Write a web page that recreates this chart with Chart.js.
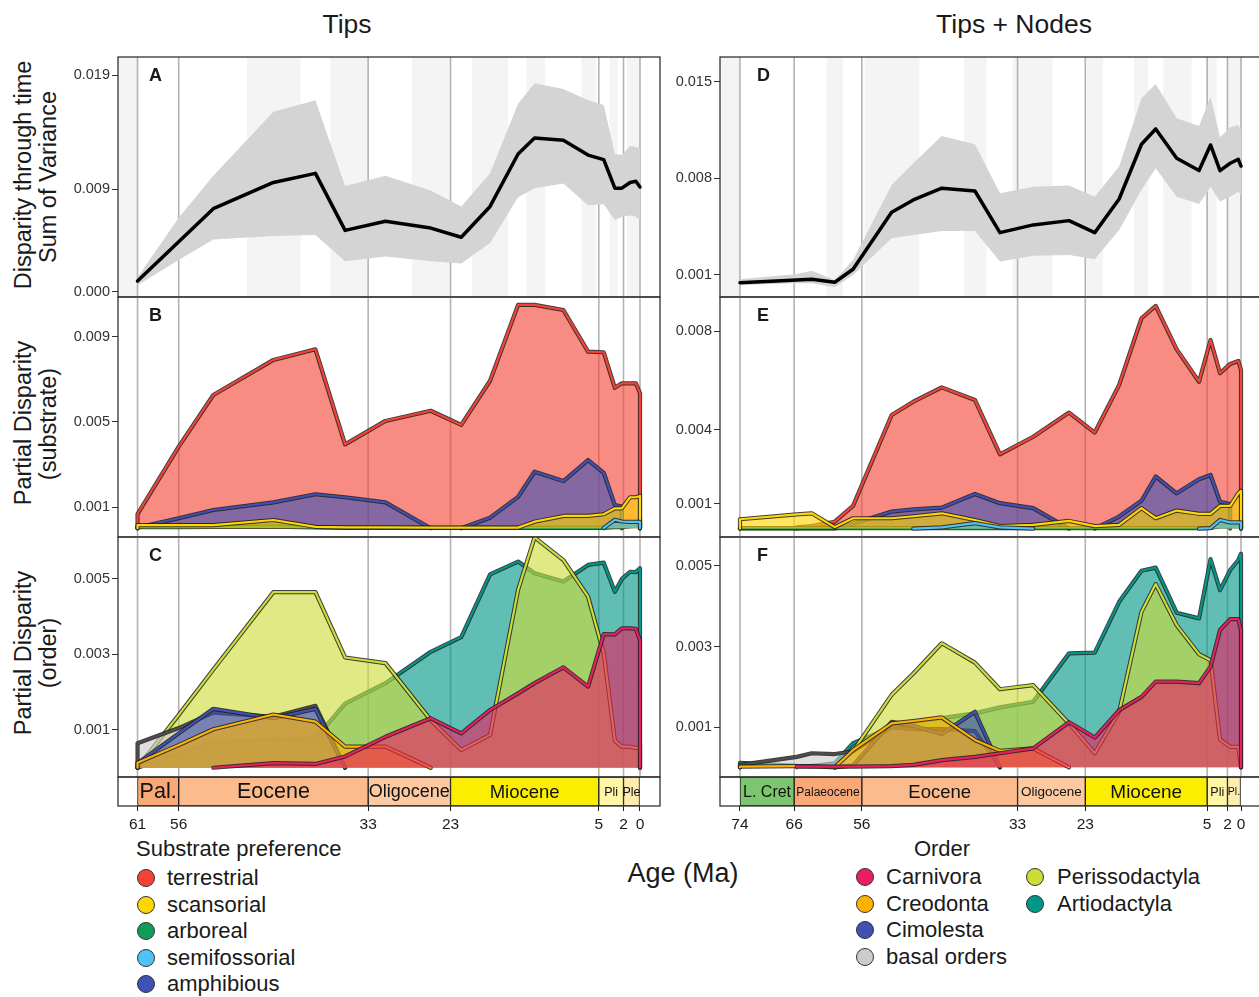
<!DOCTYPE html>
<html>
<head>
<meta charset="utf-8">
<title>Disparity through time</title>
<script src="https://cdn.jsdelivr.net/npm/chart.js@4.4.1/dist/chart.umd.min.js"></script>
<style>
  html, body { margin:0; padding:0; background:#fff; }
  body { position:relative; width:1259px; height:997px; overflow:hidden; font-family:"Liberation Sans", Arial, sans-serif; color:#1a1a1a; }
  canvas { position:absolute; }
  .lbl { position:absolute; white-space:nowrap; line-height:1; transform:translate(-50%,-50%); }
  .rot { transform:translate(-50%,-50%) rotate(-90deg); }
  .tag { position:absolute; font-weight:bold; font-size:18px; line-height:1; }
  .leg { position:absolute; font-size:22px; line-height:1; white-space:nowrap; transform:translateY(-50%); }
  .dot { position:absolute; width:18px; height:18px; border-radius:50%; border:1px solid #333; box-sizing:border-box; transform:translate(-50%,-50%); }
</style>
</head>
<body>

<div class="lbl" style="left:347px;top:24px;font-size:26.5px">Tips</div>
<div class="lbl" style="left:1014px;top:24px;font-size:26.5px">Tips + Nodes</div>

<div class="lbl rot" style="left:24px;top:175px;font-size:23.5px">Disparity through time</div>
<div class="lbl rot" style="left:49px;top:177px;font-size:23.5px">Sum of Variance</div>
<div class="lbl rot" style="left:24px;top:423px;font-size:23.5px">Partial Disparity</div>
<div class="lbl rot" style="left:49px;top:424px;font-size:23.5px">(substrate)</div>
<div class="lbl rot" style="left:24px;top:653px;font-size:23.5px">Partial Disparity</div>
<div class="lbl rot" style="left:49px;top:653px;font-size:23.5px">(order)</div>

<canvas id="cA" width="666" height="252" style="left:0;top:51px"></canvas>
<canvas id="cB" width="666" height="252" style="left:0;top:291px"></canvas>
<canvas id="cC" width="666" height="252" style="left:0;top:531px"></canvas>
<canvas id="tsL" width="666" height="60" style="left:0;top:771px"></canvas>
<canvas id="cD" width="666" height="252" style="left:600px;top:51px"></canvas>
<canvas id="cE" width="666" height="252" style="left:600px;top:291px"></canvas>
<canvas id="cF" width="666" height="252" style="left:600px;top:531px"></canvas>
<canvas id="tsR" width="666" height="60" style="left:600px;top:771px"></canvas>

<div class="tag" style="left:149px;top:66px">A</div>
<div class="tag" style="left:149px;top:306px">B</div>
<div class="tag" style="left:149px;top:546px">C</div>
<div class="tag" style="left:757px;top:66px">D</div>
<div class="tag" style="left:757px;top:306px">E</div>
<div class="tag" style="left:757px;top:546px">F</div>

<div class="lbl" style="left:683px;top:873px;font-size:27px">Age (Ma)</div>
<div id="legends"></div>

<script>
Chart.defaults.font.family = '"Liberation Sans", Arial, sans-serif';
Chart.defaults.color = '#333';

// time bins (Ma)
const tipsAges  = [61, 56, 51.8, 44.5, 39.4, 35.8, 30.9, 25.4, 21.7, 18.2, 14.8, 12.8, 9.3, 6.3, 4.4, 3.05, 2.2, 1.2, 0.5, 0];
const nodesAges = [74, 65.6, 63.4, 60, 57.3, 51.6, 48.4, 44.2, 39.3, 35.6, 30.7, 25.4, 21.6, 18, 14.7, 12.6, 9.5, 6.2, 4.5, 3.1, 1.6, 0.4, 0];

// A / D: disparity through time, mean and band
const tipsMean = [0.00096, 0.0044, 0.0073, 0.0096, 0.0104, 0.0054, 0.0062, 0.0056, 0.0048, 0.0075, 0.0121, 0.0135, 0.0133, 0.0120, 0.0116, 0.0091, 0.0091, 0.0096, 0.0097, 0.0092];
const tipsHi   = [0.0013, 0.0065, 0.0102, 0.0158, 0.0168, 0.0093, 0.0102, 0.0089, 0.0075, 0.0104, 0.0165, 0.0183, 0.0178, 0.0168, 0.0164, 0.0121, 0.0120, 0.0128, 0.0127, 0.0126];
const tipsLo   = [0.0006, 0.0028, 0.0046, 0.0049, 0.0050, 0.0027, 0.0031, 0.0027, 0.0025, 0.0043, 0.0083, 0.0091, 0.0095, 0.0076, 0.0077, 0.0063, 0.0066, 0.0067, 0.0066, 0.0063];
const nodesMean = [0.00044, 0.00064, 0.00069, 0.00047, 0.00141, 0.00555, 0.00644, 0.00729, 0.00709, 0.00407, 0.00463, 0.00494, 0.00407, 0.00651, 0.01048, 0.01159, 0.00946, 0.00857, 0.01043, 0.00857, 0.0091, 0.00939, 0.0089];
const nodesHi   = [0.00069, 0.00107, 0.00131, 0.00064, 0.00209, 0.00753, 0.0091, 0.01108, 0.01048, 0.00693, 0.0074, 0.00748, 0.00668, 0.00886, 0.01382, 0.01486, 0.01237, 0.01181, 0.01393, 0.01099, 0.01171, 0.01188, 0.01152];
const nodesLo   = [0.00027, 0.0004, 0.0004, 0.00011, 0.001, 0.00366, 0.0039, 0.00419, 0.00419, 0.00197, 0.0024, 0.00245, 0.00214, 0.00426, 0.00717, 0.00874, 0.00668, 0.00615, 0.0074, 0.00632, 0.00668, 0.00704, 0.0068];

// B / E: partial disparity by substrate
const tipsTerrestrial   = [0.00067, 0.00384, 0.00627, 0.00792, 0.00842, 0.00395, 0.00505, 0.00553, 0.00486, 0.00694, 0.01051, 0.01051, 0.01027, 0.00831, 0.00828, 0.00661, 0.00682, 0.00682, 0.00682, 0.00635];
const tipsAmphibious    = [0.00004, 0.00047, 0.00086, 0.00122, 0.0016, 0.00146, 0.00122, 0, 0, 0.0005, 0.00148, 0.00266, 0.00222, 0.00321, 0.00261, 0.00109, 0.00102, null, null, null];
const tipsScansorial    = [0.00015, 0.00015, 0.00015, 0.00039, 0.00007, 0.00004, 0.00004, 0.00003, 0.00003, 0.00003, 0.00003, 0.00031, 0.00058, 0.00058, 0.00066, 0.00094, 0.00094, 0.00146, 0.00146, 0.00152];
const tipsArboreal      = [0.00005, 0.00005, 0.00006, 0.00008, 0.00004, 0.00002, 0.00002, 0.00002, 0.00002, 0.00002, 0.00002, 0.00002, 0.00002, 0.00002, 0.00002, 0.00005, 0.00005, 0.0001, 0.00015, 0.00045];
const tipsSemifossorial = [null, null, null, null, null, null, null, null, null, null, null, null, null, null, 0.00002, 0.0004, 0.00032, 0.0003, 0.0003, 0.0003];

const nodesTerrestrial   = [null, 0.00005, 0.0001, 0.00028, 0.00092, 0.0046, 0.00514, 0.00572, 0.00521, 0.00301, 0.00372, 0.0047, 0.00389, 0.00582, 0.00852, 0.00902, 0.00726, 0.00595, 0.00764, 0.00629, 0.00667, 0.00679, 0.00643];
const nodesAmphibious    = [0.00001, 0.00001, 0.00001, 0.00001, 0.0002, 0.00069, 0.00078, 0.00085, 0.0014, 0.00103, 0.00083, 0, 0, 0.00049, 0.00113, 0.00211, 0.00143, 0.002, 0.00217, 0.00109, 0.00099, null, null];
const nodesScansorial    = [0.00038, 0.00058, 0.00062, 0.00006, 0.00042, 0.00042, 0.0005, 0.00062, 0.00035, 0.0001, 0.00015, 0.00031, 0.0001, 0.00015, 0.00083, 0.00042, 0.00073, 0.0006, 0.0006, 0.00092, 0.00092, 0.00143, 0.00153];
const nodesArboreal      = [0.00002, 0.00002, 0.00002, 0.00002, 0.00002, 0.00002, 0.00002, 0.00002, 0.00002, 0.00002, 0.00002, 0.00002, 0.00002, 0.00002, 0.00002, 0.00002, 0.00002, 0.00002, 0.00003, 0.0001, 0.0001, 0.00015, 0.0003];
const nodesSemifossorial = [null, null, null, null, null, null, 0, 0.00005, 0.00022, 0.00005, 0, 0, 0, 0, 0, 0, 0, 0, 0.00002, 0.00035, 0.00025, 0.00025, 0.00025];

// C / F: partial disparity by order
const tipsArtiodactyla   = [0, 0.00038, 0.00069, 0.00075, 0.00078, 0.0017, 0.00224, 0.00307, 0.00346, 0.00512, 0.00546, 0.00515, 0.00493, 0.00537, 0.00543, 0.00466, 0.005, 0.00519, 0.00518, 0.00528];
const tipsPerissodactyla = [0, 0.0014, 0.0026, 0.00465, 0.00465, 0.00292, 0.00277, 0.00126, 0.00047, 0.00087, 0.00471, 0.0061, 0.0055, 0.00453, 0.00303, 0.00072, 0.00056, 0.00056, 0.00052, 0.00056];
const tipsBasal          = [0.00065, 0.00105, 0.00146, 0.00135, 0.00164, 0, null, null, null, null, null, null, null, null, null, null, null, null, null, null];
const tipsCimolesta      = [0.00012, 0.00091, 0.00156, 0.00131, 0.00156, 0, null, null, null, null, null, null, null, null, null, null, null, null, null, null];
const tipsCreodonta      = [0.00013, 0.0006, 0.00102, 0.00141, 0.00122, 0.00056, 0.00056, 0, null, null, null, null, null, null, null, null, null, null, null, null];
const tipsCarnivora      = [null, null, 0, 0.00012, 0.0001, 0.0003, 0.00082, 0.00131, 0.00091, 0.00153, 0.00197, 0.00224, 0.00266, 0.00215, 0.00354, 0.00353, 0.00369, 0.00369, 0.00368, 0.00338];

const nodesArtiodactyla   = [0.00011, 0.00004, 0.00003, 0.0001, 0.0006, 0.001, 0.00113, 0.00122, 0.00134, 0.00149, 0.00163, 0.00283, 0.00285, 0.00411, 0.00488, 0.00496, 0.00384, 0.0037, 0.00517, 0.0044, 0.0049, 0.00515, 0.0053];
const nodesPerissodactyla = [null, null, null, 0, 0.0004, 0.0018, 0.00233, 0.00308, 0.0026, 0.00194, 0.00204, 0.00109, 0.00035, 0.00138, 0.00386, 0.00455, 0.00353, 0.00281, 0.00266, 0.00069, 0.00051, 0.00051, 0];
const nodesBasal          = [0.00006, 0.00026, 0.00035, 0.00033, 0.0004, 0.001, 0.00095, 0.00095, 0.0009, 0, null, null, null, null, null, null, null, null, null, null, null, null, null];
const nodesCimolesta      = [null, null, null, 0, 0.00005, 0.00113, 0.00103, 0.00083, 0.00138, 0, null, null, null, null, null, null, null, null, null, null, null, null, null];
const nodesCreodonta      = [0.00002, 0.00003, 0.00003, 0, 0.00043, 0.00109, 0.00115, 0.00124, 0.00068, 0.00041, 0.00047, 0, null, null, null, null, null, null, null, null, null, null, null];
const nodesCarnivora      = [null, 0.00002, 0.00002, 0.00002, 0.00002, 0.00003, 0.00006, 0.00018, 0.00026, 0.00035, 0.00047, 0.00112, 0.00074, 0.00142, 0.00175, 0.00213, 0.00213, 0.00209, 0.0025, 0.00341, 0.00368, 0.00368, 0.00341];

// y tick values
const ticksA = [0, 0.009, 0.019];
const ticksB = [0.001, 0.005, 0.009];
const ticksC = [0.001, 0.003, 0.005];
const ticksD = [0.001, 0.008, 0.015];
const ticksE = [0.001, 0.004, 0.008];
const ticksF = [0.001, 0.003, 0.005];

// geological timescale
const tipsBounds  = [61, 56, 33, 23, 5, 2, 0];
const nodesBounds = [74, 66, 56, 33, 23, 5, 2, 0];
const tipsEpochs  = ['Pal.', 'Eocene', 'Oligocene', 'Miocene', 'Pli', 'Ple'];
const nodesEpochs = ['L. Cret', 'Palaeocene', 'Eocene', 'Oligocene', 'Miocene', 'Pli', 'Pl.'];
const epochColor = { 'L. Cret':'#7dc56e', 'Pal.':'#f9a878', 'Palaeocene':'#f9a878', 'Eocene':'#fbbb8c', 'Oligocene':'#fdc9a2', 'Miocene':'#fbee00', 'Pli':'#fff5a6', 'Ple':'#ffedb0', 'Pl.':'#ffedb0' };
const tipsEpochFont  = [21.5, 21.5, 18, 18.5, 12.5, 12.5];
const nodesEpochFont = [16, 12, 18.5, 13.5, 19, 12.5, 10.5];

// stage shading in A and D (Ma)
const tipsStripes  = [[64, 61], [47.7, 41.2], [37.6, 33], [27.7, 23], [20.4, 16], [13.8, 11.5], [7.1, 5.3], [3.7, 2.7], [1.6, 0]];
const nodesStripes = [[77, 74], [61.2, 58.8], [55.6, 47.5], [40.9, 37.6], [33.7, 27.8], [22.8, 20.4], [15.8, 13.7], [11.5, 7.3], [5.2, 3.6], [2.1, 0]];

const substrateNames = ['terrestrial', 'scansorial', 'arboreal', 'semifossorial', 'amphibious'];
const substrateColors = ['#f44336', '#ffd600', '#0f9d58', '#4fc3f7', '#3f51b5'];
const orderNames = ['Carnivora', 'Creodonta', 'Cimolesta', 'basal orders', 'Perissodactyla', 'Artiodactyla'];
const orderColors = ['#e91e63', '#ffb300', '#3f51b5', '#cccccc', '#cddc39', '#009688'];

function rgba(hex, a) {
  const n = parseInt(hex.slice(1), 16);
  return `rgba(${n >> 16},${(n >> 8) & 255},${n & 255},${a})`;
}

function closedPts(ages, vals) {
  const p = [];
  ages.forEach((a, i) => { if (vals[i] !== null) p.push({x: a, y: vals[i]}); });
  return [{x: p[0].x, y: 0}, ...p, {x: p[p.length - 1].x, y: 0}];
}

// no outline where a series sits exactly on zero
const hideZero = ctx => (ctx.p0.parsed.y === 0 && ctx.p1.parsed.y === 0) ? 'rgba(0,0,0,0)' : undefined;

// series listed bottom -> top
function areaSets(ages, series) {
  const out = [];
  series.forEach((s, k) => {
    const d = closedPts(ages, s.vals);
    out.push({data: d, fill: 'origin', backgroundColor: rgba(s.color, 0.62), borderColor: 'rgba(30,30,30,0.85)', borderWidth: 4.2,
              segment: {borderColor: hideZero}, order: 100 - 2 * k});
    out.push({data: d, fill: false, borderColor: s.line || s.color, borderWidth: 2.2,
              segment: {borderColor: hideZero}, order: 99 - 2 * k});
  });
  return out;
}

function bandSets(ages, mean, hi, lo) {
  const xy = v => ages.map((a, i) => ({x: a, y: v[i]}));
  return [
    {data: xy(hi), fill: '+1', backgroundColor: '#d4d4d4', borderWidth: 0, order: 3},
    {data: xy(lo), fill: false, borderWidth: 0, order: 2},
    {data: xy(mean), fill: false, borderColor: '#000', borderWidth: 3.5, order: 1}
  ];
}

const framePlugin = {
  id: 'frame',
  beforeDatasetsDraw(chart, args, opts) {
    const {ctx, chartArea: a, scales: {x}} = chart;
    ctx.save();
    ctx.beginPath(); ctx.rect(a.left, a.top, a.width, a.height); ctx.clip();
    ctx.fillStyle = '#f4f4f4';
    (opts.stripes || []).forEach(([s, e]) => {
      const x1 = x.getPixelForValue(s), x2 = x.getPixelForValue(e);
      ctx.fillRect(Math.min(x1, x2), a.top, Math.abs(x2 - x1), a.height);
    });
    ctx.strokeStyle = '#b3b3b3'; ctx.lineWidth = 1.6;
    (opts.bounds || []).forEach(b => {
      const px = x.getPixelForValue(b);
      ctx.beginPath(); ctx.moveTo(px, a.top); ctx.lineTo(px, a.bottom); ctx.stroke();
    });
    ctx.restore();
  },
  afterDatasetsDraw(chart, args, opts) {
    if (!opts.sizes) return;
    const ctx = chart.ctx;
    ctx.save();
    ctx.fillStyle = '#111'; ctx.textAlign = 'center'; ctx.textBaseline = 'middle';
    chart.data.datasets.forEach((ds, i) => {
      const el = chart.getDatasetMeta(i).data[0];
      const {x, base, y} = el.getProps(['x', 'base', 'y'], true);
      ctx.font = `${opts.sizes[i]}px "Liberation Sans", Arial, sans-serif`;
      ctx.fillText(ds.label, (x + base) / 2, y + 1);
    });
    ctx.restore();
  },
  afterDraw(chart) {
    const {ctx, chartArea: a} = chart;
    ctx.save();
    ctx.strokeStyle = '#333'; ctx.lineWidth = 1.3;
    ctx.strokeRect(a.left, a.top, a.width, a.height);
    ctx.restore();
  }
};
Chart.register(framePlugin);

const leftCol  = {x: [-2.43, 63.37], axisW: 118, pad: {left: 0, right: 6, top: 6, bottom: 6}};
const rightCol = {x: [-3.1, 76.95], axisW: 120, pad: {left: 0, right: 4, top: 6, bottom: 6}};

function makePanel(id, col, yr, ticks, datasets, bounds, stripes) {
  return new Chart(document.getElementById(id), {
    type: 'line',
    data: {datasets},
    options: {
      responsive: false, animation: false, events: [],
      layout: {padding: col.pad},
      plugins: {legend: {display: false}, tooltip: {enabled: false}, frame: {stripes: stripes || [], bounds}},
      elements: {point: {radius: 0}, line: {tension: 0, borderJoinStyle: 'round', borderCapStyle: 'round'}},
      scales: {
        x: {type: 'linear', display: false, min: col.x[0], max: col.x[1], reverse: true},
        y: {
          type: 'linear', min: yr[0], max: yr[1],
          afterFit: s => { s.width = col.axisW; s.paddingTop = 0; s.paddingBottom = 0; },
          afterBuildTicks: s => { s.ticks = ticks.map(v => ({value: v})); },
          ticks: {callback: v => Number(v).toFixed(3), font: {size: 14.5}, color: '#333', padding: 2},
          grid: {drawOnChartArea: false, tickLength: 6, color: '#333'},
          border: {display: false}
        }
      }
    }
  });
}

function makeTimescale(id, col, bounds, names, sizes) {
  const datasets = names.map((n, i) => ({
    label: n, data: [[bounds[i], bounds[i + 1]]],
    backgroundColor: epochColor[n], borderColor: '#1a1a1a', borderWidth: 1, borderSkipped: false,
    grouped: false, barPercentage: 1, categoryPercentage: 1
  }));
  return new Chart(document.getElementById(id), {
    type: 'bar',
    data: {labels: ['epoch'], datasets},
    options: {
      indexAxis: 'y', responsive: false, animation: false, events: [],
      layout: {padding: {left: col.axisW, right: col.pad.right, top: 6, bottom: 0}},
      plugins: {legend: {display: false}, tooltip: {enabled: false}, frame: {sizes}},
      scales: {
        y: {display: false},
        x: {
          type: 'linear', min: col.x[0], max: col.x[1], reverse: true,
          afterFit: s => { s.height = 25; s.paddingLeft = 0; s.paddingRight = 0; },
          afterBuildTicks: s => { s.ticks = bounds.map(v => ({value: v})); },
          ticks: {font: {size: 15.5}, color: '#1a1a1a', padding: 4, autoSkip: false, maxRotation: 0, callback: v => String(v)},
          grid: {drawOnChartArea: false, tickLength: 5, color: '#1a1a1a'},
          border: {display: false}
        }
      }
    }
  });
}

const sub = (t, a, s, se, ar) => [
  {vals: t, color: substrateColors[0]},
  {vals: a, color: substrateColors[4]},
  {vals: ar, color: substrateColors[2]},
  {vals: s, color: substrateColors[1]},
  {vals: se, color: substrateColors[3]}
];
const ord = (art, per, bas, cim, cre, car) => [
  {vals: art, color: orderColors[5]},
  {vals: per, color: orderColors[4]},
  {vals: bas, color: orderColors[3], line: '#4d4d4d'},
  {vals: cim, color: orderColors[2]},
  {vals: cre, color: orderColors[1]},
  {vals: car, color: orderColors[0]}
];

makePanel('cA', leftCol, [-0.00044, 0.0206], ticksA, bandSets(tipsAges, tipsMean, tipsHi, tipsLo), tipsBounds, tipsStripes);
makePanel('cB', leftCol, [-0.00041, 0.01088], ticksB,
  areaSets(tipsAges, sub(tipsTerrestrial, tipsAmphibious, tipsScansorial, tipsSemifossorial, tipsArboreal)), tipsBounds);
makePanel('cC', leftCol, [-0.000245, 0.00611], ticksC,
  areaSets(tipsAges, ord(tipsArtiodactyla, tipsPerissodactyla, tipsBasal, tipsCimolesta, tipsCreodonta, tipsCarnivora)), tipsBounds);
makeTimescale('tsL', leftCol, tipsBounds, tipsEpochs, tipsEpochFont);

makePanel('cD', rightCol, [-0.0006, 0.01681], ticksD, bandSets(nodesAges, nodesMean, nodesHi, nodesLo), nodesBounds, nodesStripes);
makePanel('cE', rightCol, [-0.00034, 0.00938], ticksE,
  areaSets(nodesAges, sub(nodesTerrestrial, nodesAmphibious, nodesScansorial, nodesSemifossorial, nodesArboreal)), nodesBounds);
makePanel('cF', rightCol, [-0.00024, 0.00572], ticksF,
  areaSets(nodesAges, ord(nodesArtiodactyla, nodesPerissodactyla, nodesBasal, nodesCimolesta, nodesCreodonta, nodesCarnivora)), nodesBounds);
makeTimescale('tsR', rightCol, nodesBounds, nodesEpochs, nodesEpochFont);

// legends
const legendBox = document.getElementById('legends');
function legendItem(name, color, cx, cy, textX) {
  const d = document.createElement('div');
  d.className = 'dot';
  d.style.left = cx + 'px'; d.style.top = cy + 'px'; d.style.background = color;
  legendBox.appendChild(d);
  const t = document.createElement('div');
  t.className = 'leg';
  t.style.left = textX + 'px'; t.style.top = cy + 'px';
  t.textContent = name;
  legendBox.appendChild(t);
}
function legendTitle(text, x, y, centered) {
  const t = document.createElement('div');
  t.className = centered ? 'lbl' : 'leg';
  t.style.left = x + 'px'; t.style.top = y + 'px'; t.style.fontSize = '22px';
  t.textContent = text;
  legendBox.appendChild(t);
}
legendTitle('Substrate preference', 136, 849, false);
substrateNames.forEach((n, i) => legendItem(n, substrateColors[i], 146, 878 + i * 26.6, 167));
legendTitle('Order', 942, 849, true);
orderNames.forEach((n, i) => {
  const col2 = i >= 4;
  const row = col2 ? i - 4 : i;
  legendItem(n, orderColors[i], col2 ? 1035 : 864.5, 877 + row * 26.7, col2 ? 1057 : 886);
});
</script>
</body>
</html>
